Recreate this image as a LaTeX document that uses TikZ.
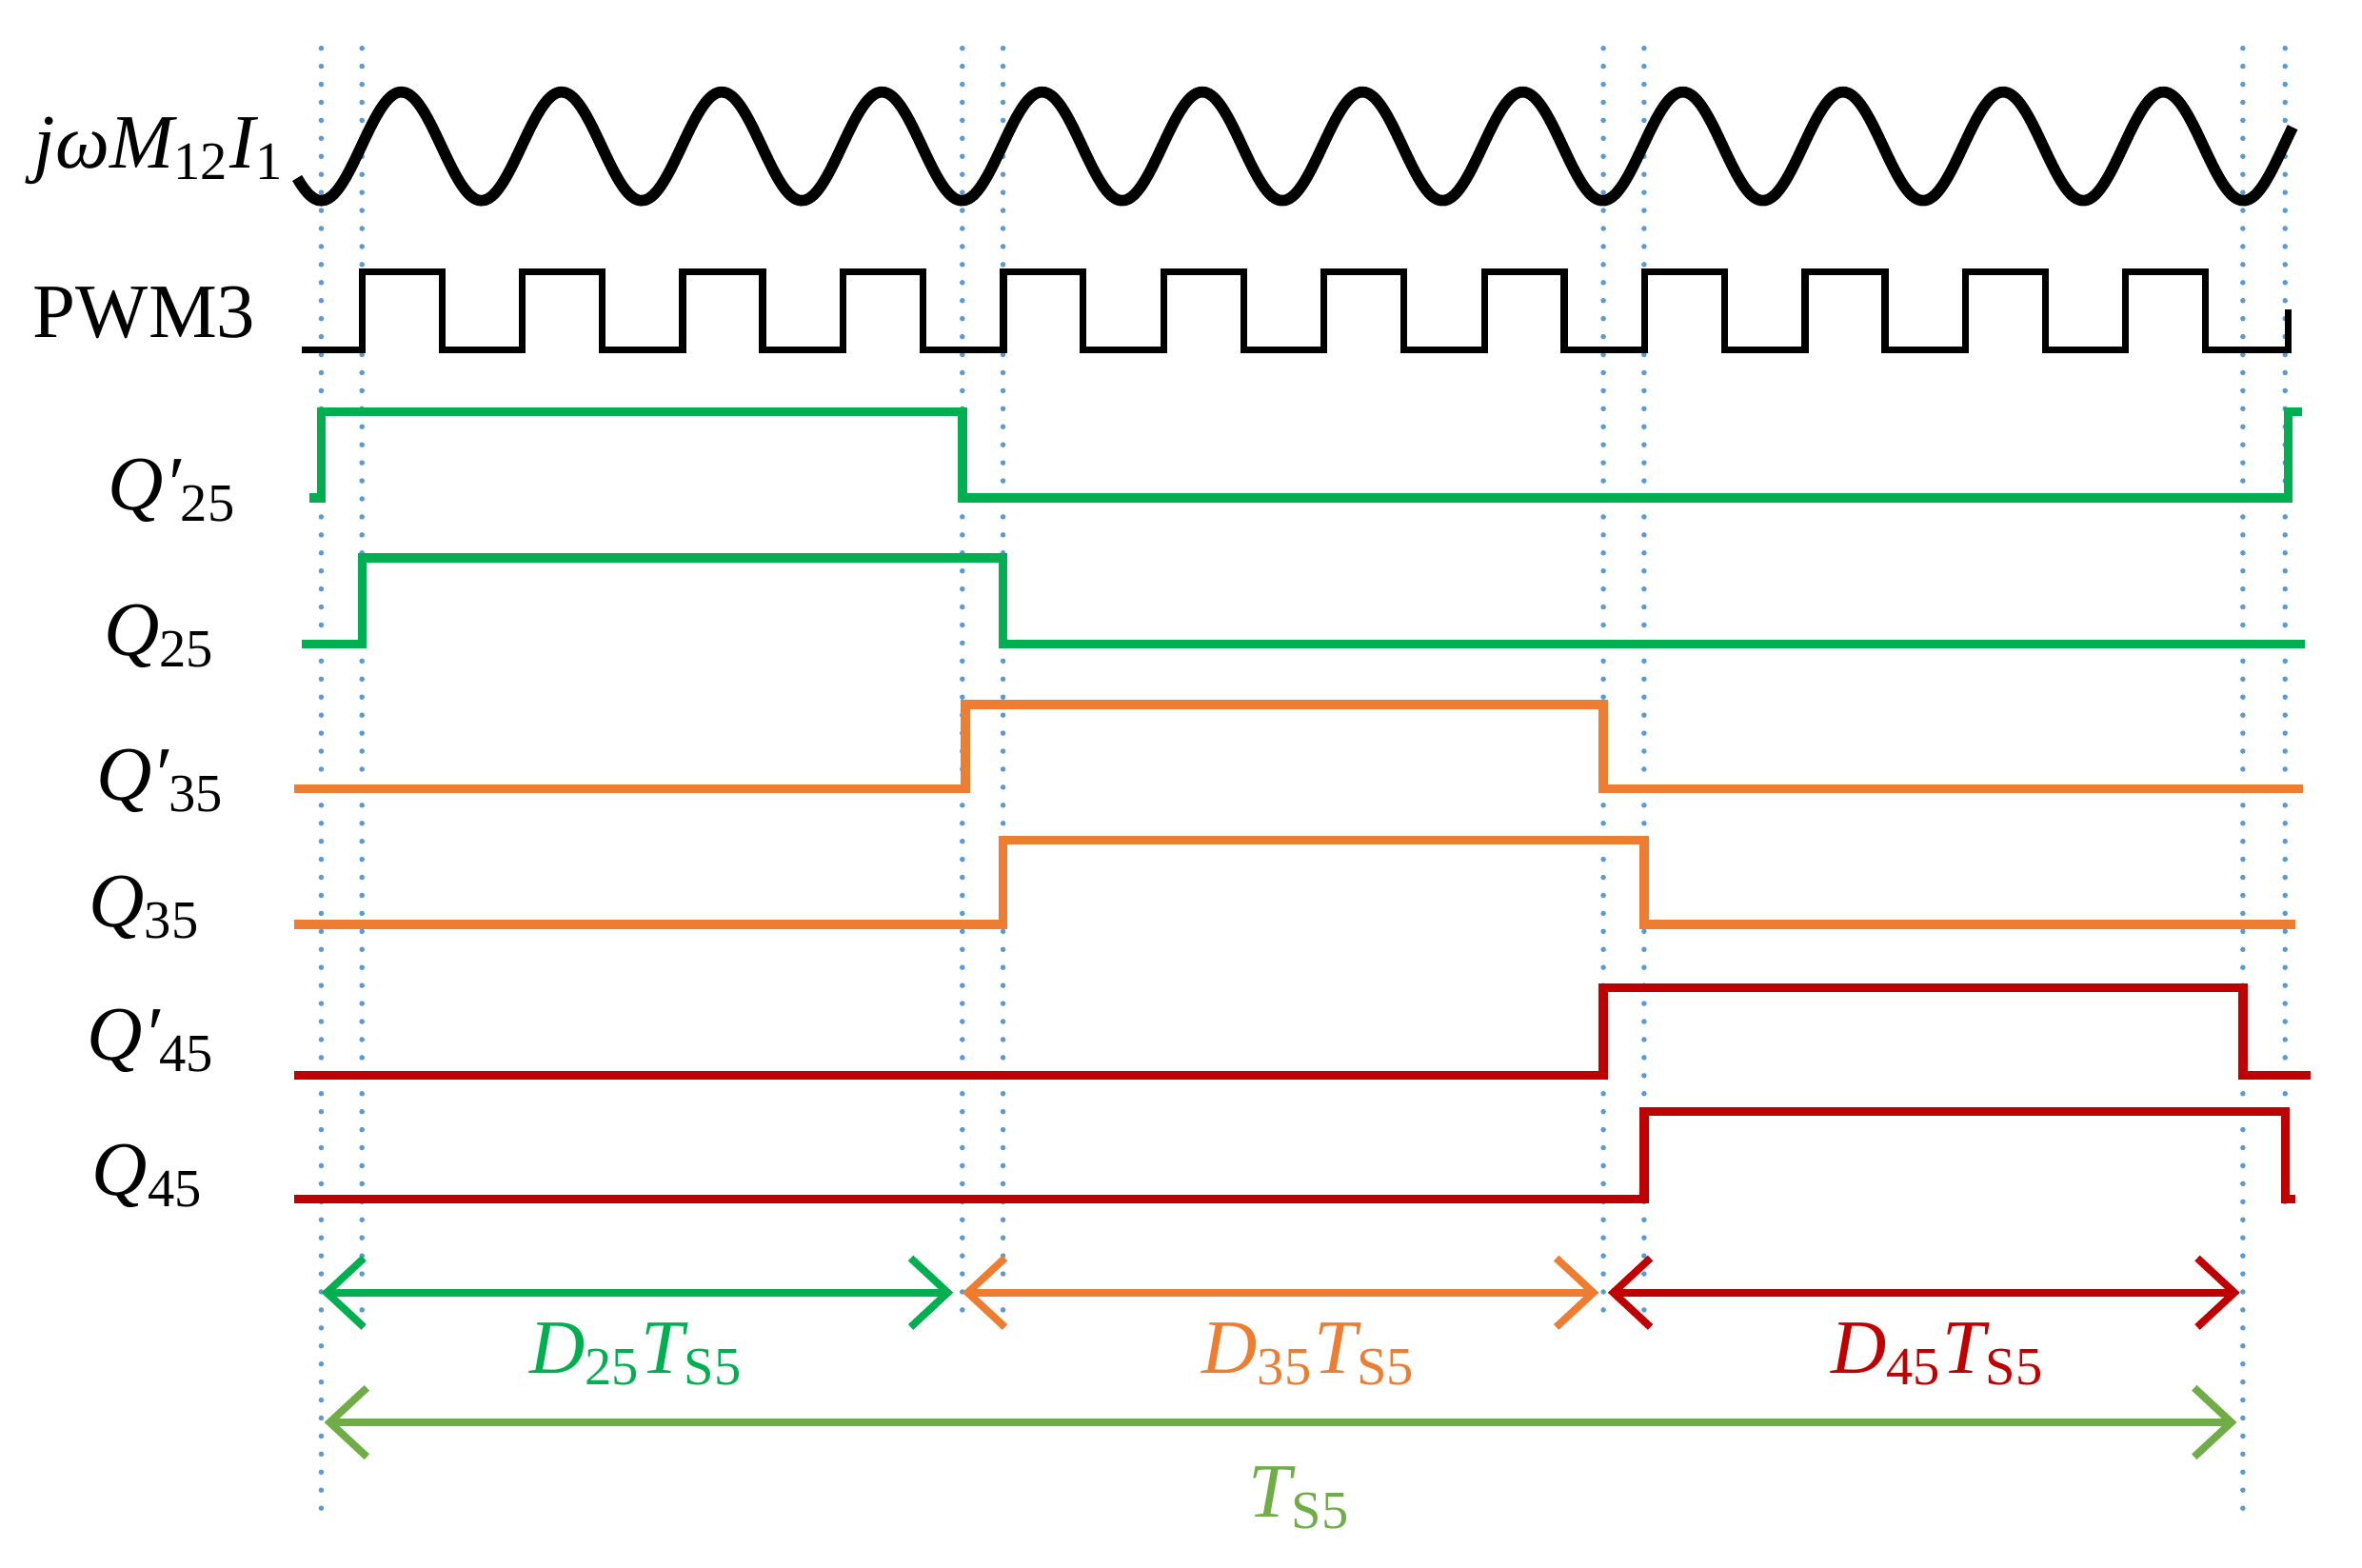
\documentclass[tikz,border=0pt]{standalone}
\usepackage{fontspec}
\setmainfont{Liberation Serif}
\usetikzlibrary{arrows.meta}
\definecolor{cg}{HTML}{00B050}
\definecolor{co}{HTML}{ED7D31}
\definecolor{cr}{HTML}{C00000}
\definecolor{cb}{HTML}{5B9BD5}
\definecolor{cl}{HTML}{70AD47}
\begin{document}
\begin{tikzpicture}[x=0.1mm,y=-0.1mm,
 lab/.style={font=\fontsize{14.5pt}{15pt}\selectfont, inner sep=0pt},
 sig/.style={line width=1.7pt},
 dot/.style={cb, line width=1pt, line cap=round, dash pattern=on 0pt off 3.4pt},
 dim/.style={line width=1.4pt, {Straight Barb[length=7pt,width=13pt]}-{Straight Barb[length=7pt,width=13pt]}}]
\useasboundingbox (0,0) rectangle (1566,1039);
% dotted guides
\foreach \x/\b in {213/1010,240/870,638/870,665/870,1063/870,1090/870,1487/1010,1515/800}
  \draw[dot] (\x,32) -- (\x,\b);
% sine
\draw[line width=2.1pt] plot[domain=197:1520,samples=500,smooth] (\x,{97+36*cos((\x-213)*3.38983)});
% PWM
\draw[sig,line width=1.3pt] (200,232) \foreach \i in {0,...,11}{ -- ({240+106.3*\i},232) -- ({240+106.3*\i},180) -- ({293+106.3*\i},180) -- ({293+106.3*\i},232)} -- (1517,232) -- (1517,205);
% gate signals
\draw[sig,cg] (205,330) -- (213,330) -- (213,273) -- (638,273) -- (638,330) -- (1517,330) -- (1517,273) -- (1526,273);
\draw[sig,cg] (200,427) -- (240,427) -- (240,370) -- (665,370) -- (665,427) -- (1528,427);
\draw[sig,co] (195,523) -- (640,523) -- (640,467) -- (1063,467) -- (1063,523) -- (1527,523);
\draw[sig,co] (195,613) -- (665,613) -- (665,557) -- (1090,557) -- (1090,613) -- (1522,613);
\draw[sig,cr] (195,713) -- (1063,713) -- (1063,655) -- (1487,655) -- (1487,713) -- (1532,713);
\draw[sig,cr] (195,795) -- (1090,795) -- (1090,737) -- (1515,737) -- (1515,795) -- (1522,795);
% labels
\node[lab,anchor=east] (l0) at (190,100) {\itshape jωM\textsubscript{\upshape 12}I\textsubscript{\upshape 1}};
\node[lab,anchor=east] (l1) at (170,207) {PWM3};
\node[lab,anchor=east] (l2) at (158,325) {\itshape Q′\textsubscript{\upshape 25}};
\node[lab,anchor=east] (l3) at (144,422) {\itshape Q\textsubscript{\upshape 25}};
\node[lab,anchor=east] (l4) at (150,518) {\itshape Q′\textsubscript{\upshape 35}};
\node[lab,anchor=east] (l5) at (134,602) {\itshape Q\textsubscript{\upshape 35}};
\node[lab,anchor=east] (l6) at (144,690) {\itshape Q′\textsubscript{\upshape 45}};
\node[lab,anchor=east] (l7) at (136,780) {\itshape Q\textsubscript{\upshape 45}};
% dimension arrows
\coordinate (a0) at (213,857); \coordinate (a1) at (632,857);
\coordinate (b0) at (638,857); \coordinate (b1) at (1060,857);
\coordinate (c0) at (1066,857); \coordinate (c1) at (1485,857);
\coordinate (t0) at (215,943); \coordinate (t1) at (1483,943);
\draw[dim,cg] (a0) -- (a1);
\draw[dim,co] (b0) -- (b1);
\draw[dim,cr] (c0) -- (c1);
\draw[dim,cl] (t0) -- (t1);
\node[lab,cg] (d1) at (422,898) {\itshape D\textsubscript{\upshape 25}T\textsubscript{\upshape S5}};
\node[lab,co] (d2) at (868,898) {\itshape D\textsubscript{\upshape 35}T\textsubscript{\upshape S5}};
\node[lab,cr] (d3) at (1285,898) {\itshape D\textsubscript{\upshape 45}T\textsubscript{\upshape S5}};
\node[lab,cl] (d4) at (862,993) {\itshape T\textsubscript{\upshape S5}};
\end{tikzpicture}
\end{document}
